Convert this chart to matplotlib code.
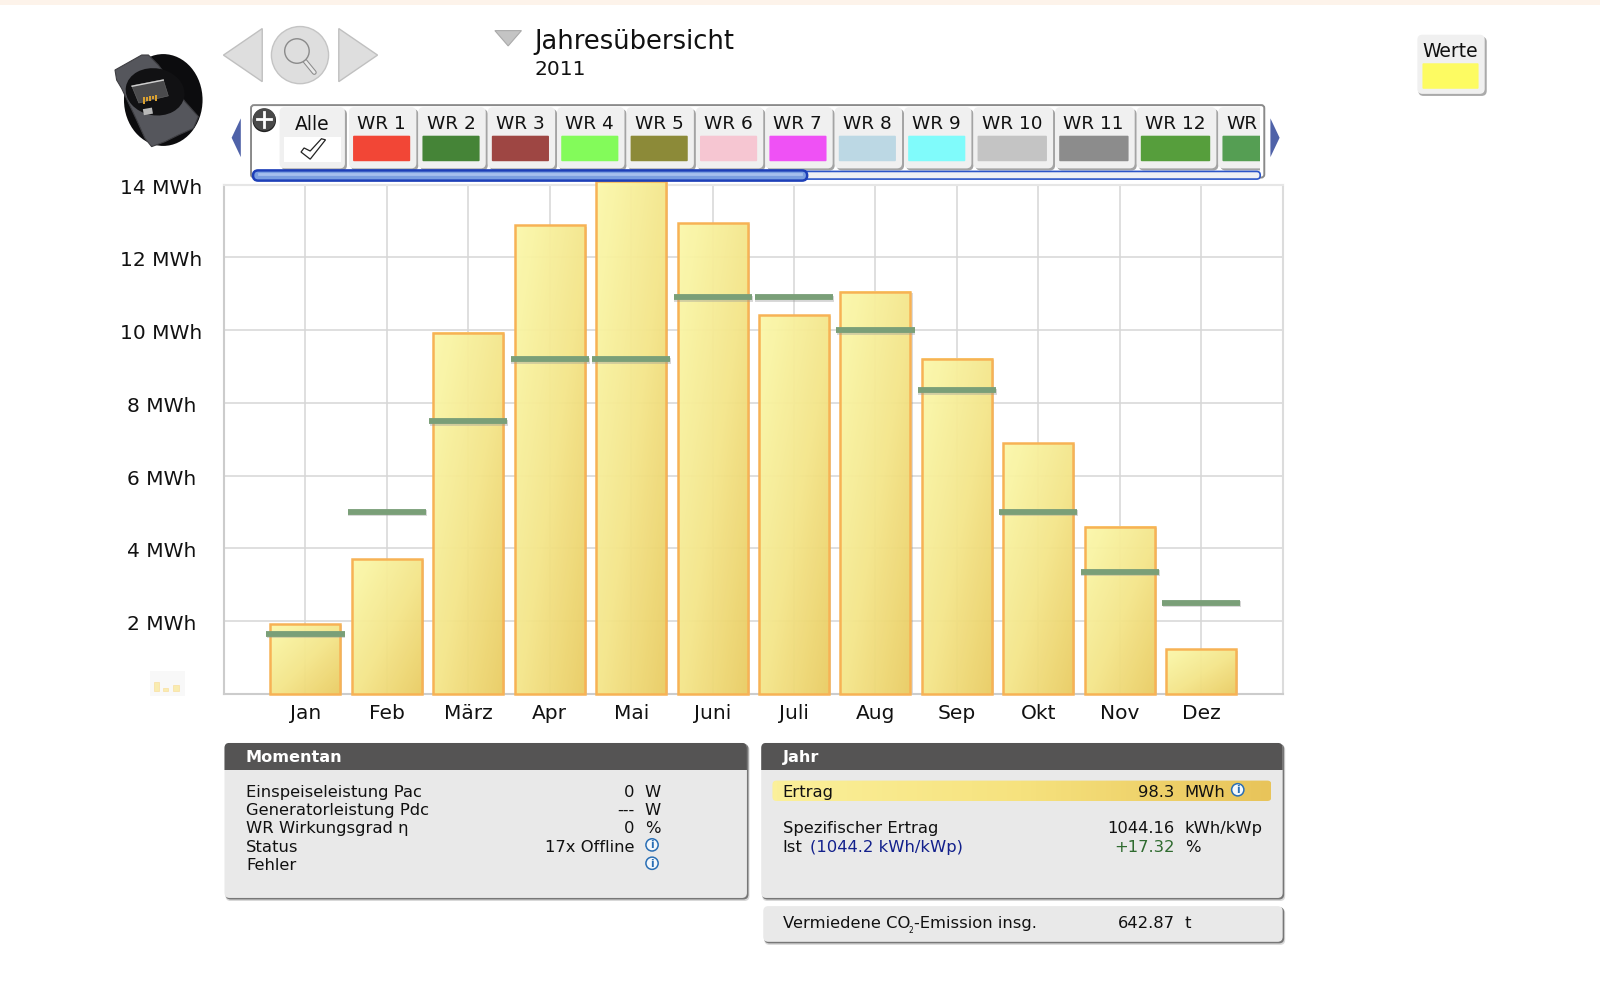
import matplotlib
matplotlib.use('Agg')
import matplotlib.pyplot as plt
import numpy as np
from matplotlib.colors import LinearSegmentedColormap
from matplotlib.patches import Circle, Ellipse, FancyBboxPatch, Polygon, Rectangle
from matplotlib.transforms import ScaledTranslation

months = ['Jan', 'Feb', 'März', 'Apr', 'Mai', 'Juni', 'Juli', 'Aug', 'Sep', 'Okt', 'Nov', 'Dez']
yields_mwh = [1.92, 3.7, 9.93, 12.88, 14.1, 12.94, 10.42, 11.06, 9.22, 6.9, 4.6, 1.22]
targets_mwh = [1.65, 5.0, 7.5, 9.2, 9.2, 10.9, 10.9, 10.0, 8.35, 5.0, 3.35, 2.5]
y_ticks = [2, 4, 6, 8, 10, 12, 14]
y_labels = ['2 MWh', '4 MWh', '6 MWh', '8 MWh', '10 MWh', '12 MWh', '14 MWh']

tab_labels = ['WR 1', 'WR 2', 'WR 3', 'WR 4', 'WR 5', 'WR 6', 'WR 7', 'WR 8', 'WR 9', 'WR 10', 'WR 11', 'WR 12', 'WR']
tab_colors = ['#f24636', '#458437', '#9e4643', '#83fb5a', '#8c8a38', '#f6c6d2', '#ef51f5', '#bcd8e4',
              '#80fbfb', '#c4c4c4', '#8c8c8c', '#569e3c', '#559e53']

now_labels = ['Einspeiseleistung Pac', 'Generatorleistung Pdc', 'WR Wirkungsgrad η', 'Status', 'Fehler']
now_values = ['0', '---', '0', '17x Offline', '']
now_units = ['W', 'W', '%', '', '']

W, H = 1568, 961.4  # the overlay works in these units
BLACK = '#111111'
TXT = 11.75

fig = plt.figure(figsize=(16, 9.81), dpi=100, facecolor='white')


def rounded(ax, x0, y0, x1, y1, r, fc, ec='none', lw=0, z=1):
    patch = FancyBboxPatch((x0 + r, y0 + r), x1 - x0 - 2 * r, y1 - y0 - 2 * r,
                           boxstyle=f'round,pad={r},rounding_size={r}', fc=fc, ec=ec, lw=lw, zorder=z)
    ax.add_patch(patch)
    return patch


# chart
ax = fig.add_axes([219.5 / W, 1 - 680 / H, (1257 - 219.5) / W, (680 - 181) / H])
ax.set_zorder(1)
x = np.arange(len(months))
bar_w = 0.86
ax.bar(x, yields_mwh, width=bar_w, fc='none', ec='#f7b255', lw=1.8, zorder=4, clip_on=False)
bar_cmap = LinearSegmentedColormap.from_list('bar', ['#fefbac', '#f7e98c', '#ecce62'])
grad = np.add.outer(np.linspace(0, 1, 60), np.linspace(0, 1, 60)) / 2
for xi, val in zip(x, yields_mwh):
    # soft shadow, then the gradient body
    ax.add_patch(Rectangle((xi - bar_w / 2, -0.03), bar_w + 0.025, val, fc='#888888', alpha=0.3, ec='none',
                           zorder=2, clip_on=False))
    ax.imshow(grad, cmap=bar_cmap, extent=(xi - bar_w / 2, xi + bar_w / 2, 0, val), origin='upper',
              aspect='auto', alpha=0.93, zorder=3, clip_on=False, interpolation='bilinear')
ax.hlines(np.array(targets_mwh) - 0.04, x - 0.475, x + 0.49, color='#999999', alpha=0.4, lw=4.2, zorder=5)
ax.hlines(targets_mwh, x - 0.48, x + 0.48, color='#7a9f78', lw=4.2, zorder=6)

ax.set_xlim(-1, 12)
ax.set_ylim(0, 14)
ax.set_xticks(x, months)
ax.set_yticks(y_ticks, y_labels)
ax.tick_params(axis='x', length=0, pad=7, labelsize=14.5, labelcolor=BLACK)
ax.tick_params(axis='y', length=0, pad=45, labelsize=14.5, labelcolor=BLACK)
for label in ax.get_yticklabels():
    label.set_ha('center')
    label.set_transform(label.get_transform() + ScaledTranslation(0, -1.5 / 100, fig.dpi_scale_trans))
ax.grid(True, color='#d6d6d6', lw=1.1, zorder=0)
ax.set_axisbelow(True)
for side, col in zip(['left', 'bottom', 'right', 'top'], ['#cccccc', '#cccccc', '#dcdcdc', '#e6e6e6']):
    ax.spines[side].set_color(col)
    ax.spines[side].set_linewidth(1.5)

# everything around the chart, on a pixel overlay
ui = fig.add_axes([0, 0, 1, 1], facecolor='none')
ui.set_zorder(2)
ui.set_xlim(0, W)
ui.set_ylim(H, 0)
ui.axis('off')

ui.add_patch(Rectangle((0, 0), W, 5, fc='#fdf3ea', ec='none'))

# nav buttons
ui.add_patch(Polygon([(219, 54), (257, 28), (257, 80)], fc='#dedede', ec='#c0c0c0', lw=1))
ui.add_patch(Polygon([(332, 28), (332, 80), (370, 54)], fc='#dedede', ec='#c0c0c0', lw=1))
ui.add_patch(Circle((294, 54), 28, fc='#dedede', ec='#c4c4c4', lw=1))
ui.plot([299, 308], [60, 71], color='#8a8a8a', lw=3.5, solid_capstyle='round')
ui.plot([299, 308], [60, 71], color='#e8e8e8', lw=2, solid_capstyle='round')
ui.add_patch(Circle((291, 50), 12, fc='#dedede', ec='#8a8a8a', lw=1, zorder=3))
ui.add_patch(Polygon([(485, 30), (511, 30), (498, 45)], fc='#c4c4c4', ec='#aaaaaa', lw=0.8))
ui.text(524, 41, 'Jahresübersicht', fontsize=18.5, color=BLACK, va='center')
ui.text(524, 68, '2011', fontsize=14.5, color=BLACK, va='center')

# device picture
ui.add_patch(Ellipse((160, 98), 77, 90, fc='#0c0c0e', ec='none'))
ui.add_patch(Polygon([(112.7, 68.6), (138.9, 53.9), (145.4, 53.9), (155.2, 63.7), (181.3, 99.6), (194.4, 114.3),
                      (189.5, 125.8), (174.8, 132.3), (161.7, 138.8), (148.6, 143.7), (142.1, 135.6), (133.9, 117.6),
                      (119.2, 86.6), (114.3, 78.4)], fc='#55565c', ec='#3e3e42', lw=0.8))
ui.add_patch(Ellipse((152, 90), 58, 46, angle=10, fc='#111113', ec='none'))
ui.add_patch(Polygon([(129, 84), (160, 78), (165, 94), (136, 101)], fc='#4a4a4c', ec='#6a6a6a', lw=0.4))
ui.plot([129.5, 160], [84.5, 78.5], color='#d0d0d0', lw=1)
ui.bar([141, 144, 147, 150, 153], [7, 4, 5, 3, 6], width=1.6, bottom=[95, 95, 94, 94, 93], color='#d9a030')
ui.set_xlim(0, W)
ui.set_ylim(H, 0)
ui.add_patch(Rectangle((140, 107), 9, 6, angle=-10, fc='#b8b8b8', ec='none'))

# Werte box
rounded(ui, 1390, 36, 1457, 94, 5, '#aaaaaa')
rounded(ui, 1389, 34, 1455, 92, 5, '#f0f0f0')
ui.text(1421, 50, 'Werte', fontsize=13.5, color=BLACK, ha='center', va='center')
rounded(ui, 1394, 62, 1449, 87, 1, '#fdfb62')

# inverter tab strip
ui.add_patch(Polygon([(236, 116), (227, 135), (236, 154)], fc='#4f62a8', ec='none'))
ui.add_patch(Polygon([(1245, 116), (1254, 135), (1245, 154)], fc='#4f62a8', ec='none'))
strip = rounded(ui, 246, 103, 1239, 174, 3, 'white', '#8a8a8a', 1.4, z=1)
clip_box = Rectangle((246, 103), 989, 70, transform=ui.transData)

rounded(ui, 276, 107, 340, 167, 5, '#a4a4a4', z=2)
rounded(ui, 274, 105, 338, 165, 5, '#f0f0f0', z=2)
ui.text(306, 122, 'Alle', fontsize=13.5, color=BLACK, ha='center', va='center', zorder=3)
ui.add_patch(Rectangle((278, 134), 56, 25, fc='white', ec='none', zorder=3))
ui.add_patch(Polygon([(295, 149), (304, 156), (319, 137), (315, 136), (304, 148), (298, 145)], fc='white',
                     ec='#222222', lw=0.9, zorder=4))

tab_x = 342
for label, col in zip(tab_labels, tab_colors):
    tab_w = 78 if label[-2:].isdigit() else 66
    shade = rounded(ui, tab_x + 2, 107, tab_x + tab_w + 2, 167, 5, '#a4a4a4', z=2)
    face = rounded(ui, tab_x, 105, tab_x + tab_w, 165, 5, '#f0f0f0', z=2)
    swatch = rounded(ui, tab_x + 4, 133, tab_x + tab_w - 6, 158, 1, col, z=3)
    for p in (shade, face, swatch):
        p.set_clip_path(clip_box)
    ui.text(tab_x + 8, 121.5, label, fontsize=13.3, color=BLACK, va='center', zorder=3)
    tab_x += tab_w + 2

ui.add_patch(Circle((259, 118), 11.5, fc='#222222', ec='none', zorder=4))
ui.add_patch(Circle((259, 117), 11, fc='#4a4a4a', ec='none', zorder=4))
ui.plot([252, 266], [117, 117], color='white', lw=2, zorder=5)
ui.plot([259, 259], [110, 124], color='white', lw=2, zorder=5)

# scrollbar
rounded(ui, 248, 168, 1235, 175.5, 3.5, '#eef0f4', '#2b55c8', 1.2, z=5)
rounded(ui, 248, 167, 791, 177, 5, '#7b9fe0', '#1d3fb8', 1.8, z=6)
ui.plot([254, 785], [171, 171], color='#a6c0ee', lw=2, zorder=7)

# tiny bar icon on the y axis
ui.add_patch(Rectangle((147, 658), 34, 24, fc='#f8f8f8', ec='none', zorder=1))
ui.add_patch(Rectangle((151, 668), 5, 9, fc='#f9ecb0', ec='#f8dfa0', lw=0.5, zorder=2))
ui.add_patch(Rectangle((160, 674), 5, 3, fc='#f9ecb0', ec='#f8dfa0', lw=0.5, zorder=2))
ui.add_patch(Rectangle((170, 671), 5, 6, fc='#f9ecb0', ec='#f8dfa0', lw=0.5, zorder=2))


def panel(x0, x1, y0, y1, title=None):
    rounded(ui, x0 + 1, y0 + 2, x1 + 2.5, y1 + 3, 5, '#d8d8d8')
    rounded(ui, x0 + 1, y0 + 1, x1 + 1.5, y1 + 1.5, 5, '#777777')
    body = rounded(ui, x0, y0, x1, y1, 5, '#e9e9e9', z=2)
    if title:
        head = Rectangle((x0, y0), x1 - x0, 26.5, fc='#555454', ec='none', zorder=3)
        ui.add_patch(head)
        head.set_clip_path(body)
        ui.text(x0 + 21, y0 + 14, title, fontsize=11.6, fontweight='bold', color='white', va='center', zorder=4)


def info(cx, cy):
    ui.add_patch(Circle((cx, cy), 6, fc='#f4f8fc', ec='#2a6fb5', lw=1.1, zorder=5))
    ui.text(cx, cy + 0.5, 'i', fontsize=7.5, fontweight='bold', color='#2a6fb5', ha='center', va='center', zorder=6)


def row(x_text, x_val, y, label, value='', unit='', val_col=BLACK):
    ui.text(x_text, y + 1.3, label, fontsize=TXT, color=BLACK, va='center', zorder=5)
    if value:
        ui.text(x_val, y + 1.3, value, fontsize=TXT, color=val_col, ha='right', va='center', zorder=5)
    if unit:
        ui.text(x_val + 10, y + 1.3, unit, fontsize=TXT, color=BLACK, va='center', zorder=5)


panel(220, 732, 728, 880, 'Momentan')
for i, (label, value, unit) in enumerate(zip(now_labels, now_values, now_units)):
    row(241, 622, 775 + 18 * i, label, value, unit)
info(639, 828)
info(639, 846)

panel(746, 1257, 728, 880, 'Jahr')
ertrag = rounded(ui, 757, 765, 1246, 785, 4, 'none', z=3)
bar_img = ui.imshow(np.linspace(0, 1, 100).reshape(1, -1), cmap=LinearSegmentedColormap.from_list(
    'ertrag', ['#fbf09a', '#f6e27e', '#e8c45a']), extent=(757, 1246, 785, 765), aspect='auto', zorder=3)
bar_img.set_clip_path(ertrag)
ui.set_xlim(0, W)
ui.set_ylim(H, 0)
row(767, 1151, 775, 'Ertrag', '98.3', 'MWh')
info(1213, 774)
row(767, 1151, 811, 'Spezifischer Ertrag', '1044.16', 'kWh/kWp')
row(767, 1151, 829, 'Ist', '+17.32', '%', val_col='#2f6b2f')
ui.text(794, 830.3, '(1044.2 kWh/kWp)', fontsize=TXT, color='#12208c', va='center', zorder=5)

panel(748, 1257, 888, 923)
row(767, 1151, 904, 'Vermiedene CO', '642.87', 't')
ui.text(890.5, 912, '2', fontsize=5.5, color=BLACK, va='center', zorder=5)
ui.text(896, 905.3, '-Emission insg.', fontsize=TXT, color=BLACK, va='center', zorder=5)

fig.savefig('out.png', dpi=100)
